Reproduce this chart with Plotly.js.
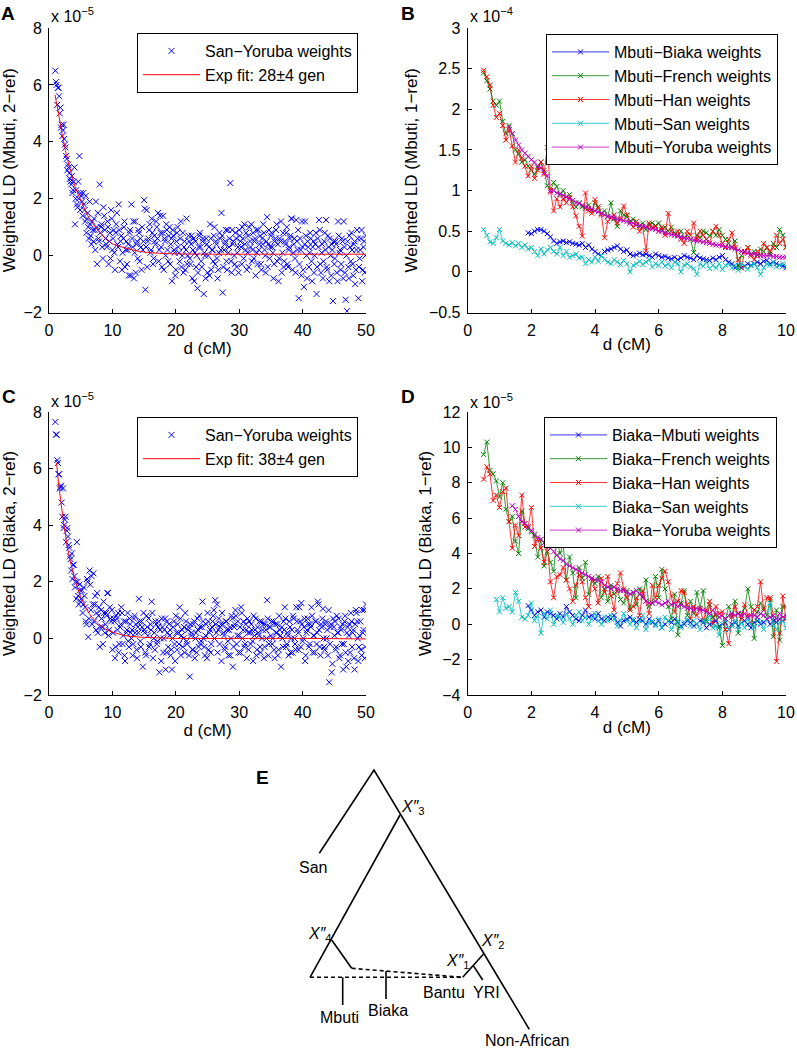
<!DOCTYPE html>
<html><head><meta charset="utf-8">
<script src="https://cdn.plot.ly/plotly-3.0.1.min.js"></script>
<style>html,body{margin:0;padding:0;background:#fff}#chart{width:797px;height:1050px}</style>
</head><body><div id="chart"></div>
<script>
// ---------- Panels A and C: distance bins (cM) ----------
const dAC = [1,1.2,1.4,1.6,1.8,2,2.2,2.4,2.6,2.8,3,
3.2,3.4,3.6,3.8,4,4.2,4.4,4.6,4.8,5,
5.2,5.4,5.6,5.8,6,6.2,6.4,6.6,6.8,7,
7.2,7.4,7.6,7.8,8,8.2,8.4,8.6,8.8,9,
9.2,9.4,9.6,9.8,10,10.2,10.4,10.6,10.8,11,
11.2,11.4,11.6,11.8,12,12.2,12.4,12.6,12.8,13,
13.2,13.4,13.6,13.8,14,14.2,14.4,14.6,14.8,15,
15.2,15.4,15.6,15.8,16,16.2,16.4,16.6,16.8,17,
17.2,17.4,17.6,17.8,18,18.2,18.4,18.6,18.8,19,
19.2,19.4,19.6,19.8,20,20.2,20.4,20.6,20.8,21,
21.2,21.4,21.6,21.8,22,22.2,22.4,22.6,22.8,23,
23.2,23.4,23.6,23.8,24,24.2,24.4,24.6,24.8,25,
25.2,25.4,25.6,25.8,26,26.2,26.4,26.6,26.8,27,
27.2,27.4,27.6,27.8,28,28.2,28.4,28.6,28.8,29,
29.2,29.4,29.6,29.8,30,30.2,30.4,30.6,30.8,31,
31.2,31.4,31.6,31.8,32,32.2,32.4,32.6,32.8,33,
33.2,33.4,33.6,33.8,34,34.2,34.4,34.6,34.8,35,
35.2,35.4,35.6,35.8,36,36.2,36.4,36.6,36.8,37,
37.2,37.4,37.6,37.8,38,38.2,38.4,38.6,38.8,39,
39.2,39.4,39.6,39.8,40,40.2,40.4,40.6,40.8,41,
41.2,41.4,41.6,41.8,42,42.2,42.4,42.6,42.8,43,
43.2,43.4,43.6,43.8,44,44.2,44.4,44.6,44.8,45,
45.2,45.4,45.6,45.8,46,46.2,46.4,46.6,46.8,47,
47.2,47.4,47.6,47.8,48,48.2,48.4,48.6,48.8,49,
49.2,49.4,49.6,49.8,50];
// in-between bins
const dAC_mid = [1.1,1.3,1.5,1.7,1.9,2.1,2.3,2.5,2.7,2.9,
3.1,3.3,3.5,3.7,3.9,4.1,4.3,4.5,4.7,4.9,
5.1,5.3,5.5,5.7,5.9,6.1,6.3,6.5,6.7,6.9,
7.1,7.3,7.5,7.7,7.9,8.1,8.3,8.5,8.7,8.9,
9.1,9.3,9.5,9.7,9.9,10.1,10.3,10.5,10.7,10.9,
11.1,11.3,11.5,11.7,11.9,12.1,12.3,12.5,12.7,12.9,
13.1,13.3,13.5,13.7,13.9,14.1,14.3,14.5,14.7,14.9,
15.1,15.3,15.5,15.7,15.9,16.1,16.3,16.5,16.7,16.9,
17.1,17.3,17.5,17.7,17.9,18.1,18.3,18.5,18.7,18.9,
19.1,19.3,19.5,19.7,19.9,20.1,20.3,20.5,20.7,20.9,
21.1,21.3,21.5,21.7,21.9,22.1,22.3,22.5,22.7,22.9,
23.1,23.3,23.5,23.7,23.9,24.1,24.3,24.5,24.7,24.9,
25.1,25.3,25.5,25.7,25.9,26.1,26.3,26.5,26.7,26.9,
27.1,27.3,27.5,27.7,27.9,28.1,28.3,28.5,28.7,28.9,
29.1,29.3,29.5,29.7,29.9,30.1,30.3,30.5,30.7,30.9,
31.1,31.3,31.5,31.7,31.9,32.1,32.3,32.5,32.7,32.9,
33.1,33.3,33.5,33.7,33.9,34.1,34.3,34.5,34.7,34.9,
35.1,35.3,35.5,35.7,35.9,36.1,36.3,36.5,36.7,36.9,
37.1,37.3,37.5,37.7,37.9,38.1,38.3,38.5,38.7,38.9,
39.1,39.3,39.5,39.7,39.9,40.1,40.3,40.5,40.7,40.9,
41.1,41.3,41.5,41.7,41.9,42.1,42.3,42.5,42.7,42.9,
43.1,43.3,43.5,43.7,43.9,44.1,44.3,44.5,44.7,44.9,
45.1,45.3,45.5,45.7,45.9,46.1,46.3,46.5,46.7,46.9,
47.1,47.3,47.5,47.7,47.9,48.1,48.3,48.5,48.7,48.9,
49.1,49.3,49.5,49.7,49.9];

// Panel A: Weighted LD (Mbuti, 2-ref), San-Yoruba weights, units of 1e-5
const ldA = [6.5,6.0,5.9,5.6,5.2,4.6,4.4,4.1,3.8,3.4,3.2,
2.9,2.6,2.8,2.3,3.1,2.0,1.8,2.6,3.5,2.2,
1.9,2.2,1.6,2.1,1.3,1.0,1.9,0.7,1.2,0.5,
0.9,1.9,-0.3,0.6,2.5,1.0,0.3,1.7,0.9,0.4,
1.2,-0.3,0.8,1.6,0.2,0.9,-0.5,1.1,0.4,1.8,
-0.2,0.7,0.1,1.0,-0.4,0.5,0.2,-0.7,0.9,1.8,
0.3,-0.8,1.2,0.4,-0.1,0.8,0.6,-0.5,0.2,1.95,
-1.2,1.6,0.5,0.9,0.1,1.3,-0.3,0.7,0.4,1.0,
1.5,0.2,0.8,-0.4,1.4,0.6,0.0,0.9,-0.2,1.0,
0.4,-0.9,0.7,0.1,-0.5,0.8,0.3,-0.2,1.2,0.0,
-0.6,0.5,0.2,-0.3,0.7,-0.1,0.4,-0.8,0.6,0.1,
-0.4,-1.15,0.3,0.8,-0.2,0.5,-1.35,0.0,0.6,-0.6,
0.3,1.1,-0.5,0.2,0.7,-0.3,0.4,-0.8,0.1,0.6,
1.5,-1.3,0.2,0.5,-0.2,0.9,0.3,2.55,-0.6,0.4,
0.0,0.8,-0.4,0.3,0.9,0.5,-0.3,0.6,1.1,0.2,
-0.5,0.7,1.0,0.3,-0.2,0.8,0.5,-0.7,0.1,0.9,
0.4,-0.3,0.6,1.1,0.2,-0.6,1.35,0.4,-0.1,0.7,
0.3,-0.8,0.5,0.9,-0.2,-0.9,0.6,1.2,0.1,-0.4,
0.5,0.8,-0.3,0.2,0.6,1.3,-0.5,0.4,-0.1,1.25,
0.2,-1.5,0.6,-0.7,0.3,-1.1,1.2,0.0,0.5,-0.4,
0.8,-0.2,0.3,-0.6,0.4,-1.35,0.6,1.25,-0.3,0.1,
-0.8,0.5,0.2,-0.4,0.7,-0.9,0.0,0.4,-1.6,-0.3,
0.5,-0.6,1.2,0.1,-0.5,0.6,-0.8,0.3,-1.55,-1.95,
-0.4,0.7,-0.2,0.2,-0.7,0.5,-0.5,0.9,-1.5,-0.1,
0.6,-0.9,0.3,-0.6,0.7];
const ldA_mid = [6.1,5.3,5.9,5.0,4.5,4.2,4.6,3.9,3.5,3.0,
3.1,2.7,2.5,2.2,2.6,1.1,2.3,1.7,2.0,1.6,
2.1,1.4,1.8,1.2,0.8,1.5,0.6,1.1,0.4,0.9,
1.3,0.2,1.0,1.5,0.5,0.8,1.1,-0.1,1.4,0.6,
0.3,1.0,0.5,-0.1,1.3,0.6,0.1,0.8,1.5,0.3,
0.9,0.5,-0.5,0.6,1.2,0.2,-0.3,0.4,0.8,-0.7,
0.6,1.2,0.1,-0.6,0.5,0.9,-0.2,0.3,1.0,0.5,
1.65,0.3,-0.4,0.6,1.1,0.2,0.8,-0.1,0.5,1.2,
0.6,-0.2,1.4,0.3,0.8,-0.5,0.5,1.1,0.2,0.7,
-0.3,0.6,0.9,0.2,-0.7,0.5,1.0,0.1,0.6,-0.4,
0.8,0.3,-0.5,1.3,0.0,0.5,-0.3,0.7,0.2,-0.9,
0.5,0.0,-0.6,0.7,0.3,-0.4,0.6,0.1,-0.8,0.4,
0.0,-0.7,0.6,0.2,-0.2,1.0,0.5,-0.1,-0.5,0.8,
0.2,0.7,-0.4,0.4,0.9,-0.5,0.1,0.6,-0.2,0.9,
0.5,-0.3,0.6,0.1,-0.6,0.7,0.3,1.0,-0.1,0.4,
0.8,0.1,-0.4,0.5,1.1,0.2,-0.1,0.6,0.9,-0.3,
0.2,0.7,-0.5,0.4,0.8,0.0,0.5,-0.4,0.9,0.3,
0.8,0.1,-0.3,0.6,1.1,0.4,-0.1,0.5,-0.6,0.8,
-0.2,0.4,1.0,-0.4,0.3,0.7,1.3,0.1,0.6,-0.6,
0.5,0.9,-0.3,0.2,1.2,-0.5,0.4,0.7,-0.8,0.3,
0.1,0.6,-0.9,0.5,0.0,0.8,-0.4,0.3,0.9,-0.6,
0.4,-0.2,0.8,1.25,-0.5,0.3,0.6,-0.7,0.2,0.5,
-0.1,0.4,-0.9,0.7,0.2,-0.3,0.5,1.2,-0.6,0.0,
0.5,-0.8,0.3,0.8,-0.3,0.4,-1.0,0.2,0.6,-0.4,
0.2,0.9,-0.5,0.5,0.0];
const fitA_d = [0.95,1.5,2,2.5,3,3.5,4,4.5,5,6,7,8,9,10,12,14,16,20,25,30,40,50];
const fitA_v = [5.65,5.0,4.35,3.8,3.3,2.9,2.5,2.2,1.95,1.45,1.1,0.82,0.6,0.42,0.27,0.16,0.1,0.06,0.05,0.05,0.05,0.05];

// Panel C: Weighted LD (Biaka, 2-ref), San-Yoruba weights, units of 1e-5
const ldC = [7.65,7.2,6.2,5.8,5.35,4.8,5.3,4.0,4.3,3.8,3.6,
3.2,2.8,3.0,2.6,2.2,2.0,3.4,1.5,1.9,1.3,
1.7,1.2,1.5,0.6,2.1,0.05,2.4,1.0,0.5,2.3,
1.2,0.3,1.6,0.8,-0.3,1.0,0.4,1.3,0.2,0.9,
1.6,0.1,1.1,0.6,-0.4,0.7,-0.7,0.8,0.3,-0.5,
0.4,1.1,-0.2,0.6,-0.8,0.2,0.9,-0.3,0.5,0.0,
-0.6,0.7,0.2,-0.4,0.4,1.4,-0.1,0.6,-1.0,0.3,
-0.5,0.8,0.1,-0.3,0.5,1.3,-0.7,0.2,0.6,-0.2,
0.4,-1.2,0.0,0.7,-0.5,0.3,-1.1,0.6,-0.3,0.1,
-0.6,-1.1,0.4,-0.2,0.8,-0.4,0.2,1.1,-0.6,0.3,
0.0,-0.5,0.6,-0.2,0.4,-1.35,0.1,-0.4,0.5,-0.7,
0.2,0.7,-0.3,0.4,-0.1,1.3,0.0,-0.6,0.5,0.9,
-0.4,0.3,-0.2,0.6,1.0,1.35,0.2,-0.5,0.7,0.4,
-0.8,0.5,0.1,-0.3,0.6,-0.1,0.3,-0.6,0.8,-1.0,
0.4,1.0,-0.2,0.6,0.1,-0.5,0.9,0.3,-0.3,0.5,
-0.7,0.2,0.6,-0.2,0.3,-0.8,0.1,0.7,-0.4,0.2,
0.6,-0.5,0.0,0.5,-0.3,0.3,1.35,-0.6,0.4,0.1,
-0.2,0.6,-0.7,0.2,0.5,-0.4,0.3,-1.0,0.0,0.6,
1.1,-0.3,0.2,-0.6,0.4,0.0,-0.5,0.7,-0.2,1.1,
0.3,-0.4,0.6,1.25,-0.1,0.4,-0.8,0.2,0.7,-0.3,
0.5,1.1,-0.5,0.1,0.6,-0.2,1.3,0.3,-0.6,0.4,
1.05,-0.3,0.5,0.0,-0.6,-1.55,0.4,-1.2,0.7,0.1,
-0.4,0.8,0.2,-0.7,0.4,-0.2,-1.1,0.6,-0.5,0.2,
-0.8,0.5,0.9,-0.3,0.3,-1.1,1.0,0.6,-0.8,0.1,
-0.4,1.0,0.3,-0.7,1.2];
const ldC_mid = [7.2,6.3,5.8,5.3,5.4,4.3,3.9,4.2,3.4,3.9,
3.3,2.9,2.4,2.1,2.6,1.8,1.4,2.0,1.2,1.7,
1.4,0.9,1.8,1.1,0.5,2.0,0.7,1.9,2.2,1.2,
0.6,1.5,0.9,0.2,1.1,0.4,0.7,-0.2,0.9,0.5,
0.8,1.6,0.3,0.7,1.0,0.2,0.6,-0.3,0.7,0.9,
-0.2,0.5,0.9,0.1,-0.6,0.6,0.3,-0.1,0.7,0.2,
0.3,-0.2,0.8,0.5,-0.7,0.2,0.6,-0.3,0.4,0.9,
0.2,-0.6,0.4,0.7,-0.2,0.3,0.9,0.0,-0.4,0.5,
-0.1,0.6,0.3,-0.8,0.4,0.0,0.7,-0.5,0.2,0.5,
0.3,-0.4,0.0,0.6,-0.8,0.2,0.5,-0.2,0.7,0.1,
-0.3,0.4,0.9,-0.1,0.3,-0.6,0.5,0.2,-0.4,0.6,
0.0,-0.5,0.3,0.8,-0.2,0.4,0.6,-0.3,0.1,-0.7,
0.6,0.2,-0.5,0.4,0.8,0.0,0.5,1.2,0.3,-0.2,
0.5,0.9,0.2,-0.4,0.6,0.3,-0.6,0.4,0.0,0.7,
-0.3,0.5,0.8,0.1,-0.5,0.4,1.1,0.0,0.6,-0.2,
0.3,0.7,-0.4,0.2,0.5,-0.1,0.8,0.3,-0.6,0.4,
0.1,-0.3,0.6,0.3,-0.7,0.5,0.0,0.7,-0.2,0.4,
0.6,0.0,-0.4,0.5,0.2,-0.6,0.8,0.1,0.4,-0.3,
0.3,0.7,-0.2,0.1,0.6,-0.5,0.3,0.8,0.0,-0.4,
0.6,0.2,1.1,-0.3,0.5,0.0,0.7,-0.6,0.3,0.5,
-0.2,0.4,0.8,0.1,-0.5,0.6,0.2,1.2,-0.3,0.5,
0.7,0.0,-0.4,0.6,0.3,1.0,-0.2,0.5,-0.9,0.4,
0.6,-0.3,0.2,0.7,-0.6,0.3,0.5,-0.2,0.8,-1.0,
0.4,0.1,-0.5,0.6,0.2,-0.7,0.5,0.9,0.0,-0.3,
0.6,-0.6,0.2,1.0,-0.3];
const fitC_d = [1.2,1.5,2,2.5,3,3.5,4,4.5,5,6,7,8,9,10,12,14,17,20,30,40,50];
const fitC_v = [6.2,5.5,4.6,3.8,3.1,2.6,2.15,1.8,1.47,1.0,0.69,0.47,0.32,0.22,0.1,0.05,0.02,0.0,0.0,0.0,-0.02];

// ---------- Panels B and D: distance bins (cM) ----------
const dBD = [0.5,0.6,0.7,0.8,0.9,
1,1.1,1.2,1.3,1.4,1.5,1.6,1.7,1.8,1.9,
2,2.1,2.2,2.3,2.4,2.5,2.6,2.7,2.8,2.9,
3,3.1,3.2,3.3,3.4,3.5,3.6,3.7,3.8,3.9,
4,4.1,4.2,4.3,4.4,4.5,4.6,4.7,4.8,4.9,
5,5.1,5.2,5.3,5.4,5.5,5.6,5.7,5.8,5.9,
6,6.1,6.2,6.3,6.4,6.5,6.6,6.7,6.8,6.9,
7,7.1,7.2,7.3,7.4,7.5,7.6,7.7,7.8,7.9,
8,8.1,8.2,8.3,8.4,8.5,8.6,8.7,8.8,8.9,
9,9.1,9.2,9.3,9.4,9.5,9.6,9.7,9.8,9.9,
10];

// Panel B: Weighted LD (Mbuti, 1-ref), units of 1e-4
const B_Biaka = [null,null,null,null,null,
null,null,null,null,null,null,null,null,null,0.48,
0.47,0.50,0.52,0.52,0.50,0.47,0.43,0.38,0.35,0.37,
0.38,0.36,0.37,0.35,0.34,0.33,0.35,0.30,0.33,0.28,
0.25,0.22,0.20,0.25,0.27,0.28,0.30,0.32,0.28,0.25,
0.27,0.22,0.20,0.21,0.23,0.21,0.22,0.20,0.18,0.22,
0.20,0.18,0.19,0.17,0.16,0.18,0.15,0.17,0.20,0.18,
0.17,0.15,0.20,0.17,0.16,0.15,0.14,0.17,0.15,0.18,
0.20,0.15,0.12,0.10,0.05,0.08,0.05,0.07,0.10,0.08,
0.10,0.12,0.10,0.13,0.14,0.10,0.12,0.10,0.08,0.07,
0.05];
const B_French = [2.45,2.35,2.25,2.10,2.05,
2.10,1.85,1.70,1.80,1.70,1.50,1.45,1.35,1.38,1.30,
1.25,1.20,1.28,1.35,1.25,1.06,1.00,1.10,1.05,0.95,
1.00,0.92,0.95,0.85,0.80,0.85,0.80,0.78,0.82,0.75,
0.85,0.78,0.72,0.75,0.68,0.85,0.65,0.56,0.75,0.70,
0.68,0.62,0.65,0.58,0.55,0.60,0.52,0.58,0.60,0.57,
0.60,0.52,0.55,0.50,0.55,0.48,0.45,0.50,0.42,0.45,
0.40,0.24,0.45,0.42,0.50,0.48,0.44,0.50,0.45,0.52,
0.45,0.40,0.35,0.30,0.38,0.05,0.20,0.25,0.30,0.22,
0.25,0.20,0.28,0.25,0.30,0.22,0.35,0.30,0.52,0.45,
0.30];
const B_Han = [2.48,2.40,2.30,2.05,1.90,
1.95,1.80,1.62,1.75,1.55,1.35,1.50,1.40,1.30,1.18,
1.30,1.15,1.25,1.35,1.20,1.53,1.00,0.75,0.90,0.80,
0.90,0.85,0.92,0.80,0.69,0.56,0.44,0.97,0.75,0.72,
0.89,0.80,0.70,0.42,0.62,0.66,0.70,0.60,0.65,0.81,
0.70,0.60,0.55,0.62,0.50,0.55,0.26,0.60,0.55,0.56,
0.50,0.55,0.45,0.72,0.50,0.45,0.50,0.40,0.35,0.50,
0.45,0.60,0.40,0.50,0.45,0.40,0.35,0.50,0.56,0.45,
0.35,0.30,0.40,0.48,0.30,0.15,0.05,0.25,0.30,0.20,
0.15,0.25,0.20,0.35,0.30,0.25,0.30,0.45,0.35,0.40,
0.30];
const B_San = [0.52,0.45,0.37,0.35,0.42,
0.52,0.38,0.35,0.33,0.36,0.32,0.35,0.30,0.33,0.28,
0.30,0.25,0.20,0.28,0.22,0.27,0.30,0.25,0.22,0.30,
0.20,0.25,0.18,0.20,0.22,0.17,0.18,0.10,0.15,0.12,
0.18,0.13,0.20,0.15,0.12,0.10,0.15,0.12,0.09,0.14,
0.10,0.00,0.08,0.10,0.13,0.09,0.12,0.15,0.06,0.10,
0.08,0.12,0.07,0.10,0.05,0.12,0.10,0.00,0.08,0.10,
0.06,0.04,-0.03,0.10,0.07,0.12,0.04,0.08,0.05,0.10,
0.03,0.08,0.10,0.05,0.08,0.02,0.10,0.06,0.03,0.08,
0.10,0.05,-0.03,0.05,0.10,0.08,0.12,0.06,0.08,0.10,
0.07];
const B_Yoruba = [null,null,null,null,null,
null,null,null,1.78,1.70,1.62,1.56,1.50,1.46,1.42,
1.38,1.35,1.30,1.28,1.22,1.18,0.98,1.00,0.97,0.96,
0.94,0.92,0.90,0.88,0.85,0.84,0.82,0.80,0.78,0.77,
0.75,0.74,0.72,0.70,0.68,0.68,0.66,0.65,0.64,0.63,
0.62,0.60,0.60,0.58,0.57,0.56,0.55,0.53,0.53,0.52,
0.50,0.50,0.48,0.47,0.46,0.45,0.44,0.43,0.42,0.41,
0.40,0.39,0.38,0.38,0.37,0.36,0.35,0.34,0.33,0.33,
0.32,0.31,0.30,0.30,0.28,0.27,0.25,0.24,0.23,0.22,
0.22,0.21,0.20,0.20,0.20,0.20,0.19,0.19,0.18,0.18,
0.18];

// Panel D: Weighted LD (Biaka, 1-ref), units of 1e-5
const D_Mbuti = [null,null,null,null,null,
null,null,null,null,null,null,null,null,null,1.05,
0.8,0.5,0.7,0.8,0.4,0.7,0.6,0.5,0.3,0.6,
0.4,1.0,0.7,0.5,0.3,0.2,0.5,0.8,0.4,0.5,
0.3,0.6,0.3,0.2,0.4,0.3,0.5,0.1,-0.1,0.2,
0.3,0.4,0.2,0.1,0.3,0.2,0.0,0.3,0.1,0.0,
0.2,-0.2,0.0,0.2,0.1,0.3,0.1,-0.1,0.0,0.2,
0.1,-0.1,0.0,0.2,0.1,-0.2,0.0,0.1,0.2,-0.1,
0.0,0.1,-0.3,0.0,0.1,-0.1,0.1,0.2,0.0,-0.2,
0.1,0.2,0.0,0.1,0.3,0.0,0.2,0.1,0.3,0.2,
0.3];
const D_French = [9.6,10.3,8.7,8.5,8.1,
7.2,8.0,6.5,5.8,6.1,4.7,4.0,6.4,5.7,5.4,
5.2,5.0,3.8,4.8,3.3,4.1,3.5,3.0,4.8,4.0,
4.5,2.5,3.8,2.9,1.5,3.2,2.6,3.5,1.7,2.6,
2.3,2.7,1.5,2.0,1.3,2.2,1.7,1.9,1.4,1.2,
1.9,0.9,1.8,1.1,2.0,1.5,2.5,1.0,1.2,2.7,
1.5,3.1,2.0,1.0,0.3,1.7,-0.6,1.2,1.9,0.5,
1.3,0.6,1.8,0.9,1.9,0.2,1.1,0.4,0.5,-0.2,
-1.2,0.3,1.0,0.5,1.3,-0.5,0.6,0.9,2.0,1.0,
-0.8,0.7,1.2,0.9,0.5,1.4,-0.7,0.8,-0.9,1.0,
1.0];
const D_Han = [8.2,8.9,8.5,7.0,7.3,
6.6,7.5,7.7,5.8,4.3,5.6,5.0,7.3,5.5,5.5,
6.6,4.4,4.8,4.3,3.5,4.5,2.4,1.5,2.7,2.8,
3.2,2.5,2.0,1.3,2.2,2.8,2.4,1.5,1.0,2.6,
2.0,1.2,2.6,1.8,2.7,1.6,0.8,2.3,2.9,2.0,
1.5,0.8,1.0,1.5,0.5,1.9,1.3,0.6,2.2,1.5,
2.2,2.6,3.0,2.4,1.6,0.7,1.3,1.9,1.8,1.1,
0.3,1.0,0.5,0.9,0.2,0.8,1.3,0.0,1.0,0.6,
0.7,-0.3,-1.1,0.4,1.0,0.6,0.3,1.1,0.5,0.0,
0.8,1.0,2.4,0.8,1.5,1.5,0.5,-2.1,-0.5,1.6,
0.3];
const D_San = [null,null,null,null,1.4,
0.7,1.5,0.9,1.0,0.7,1.8,1.3,0.4,0.3,0.5,
1.2,0.2,0.5,-0.5,0.6,0.3,0.8,0.0,0.5,0.4,
0.1,0.6,0.3,0.0,0.5,0.7,0.2,0.4,0.0,0.3,
0.6,0.2,0.0,0.4,0.2,0.5,0.3,-0.1,0.2,0.6,
0.2,0.0,0.3,-0.2,0.2,0.5,-0.3,0.1,0.2,-0.1,
0.3,-0.2,0.4,0.2,-0.3,0.0,0.2,-0.2,0.1,0.3,
-0.1,0.2,0.0,-0.3,0.2,0.1,0.5,-0.2,-0.1,-0.6,
0.0,0.3,-0.3,-0.1,0.2,-0.3,0.1,-0.2,0.3,0.0,
-0.2,0.4,0.1,-0.3,0.3,1.2,0.0,-0.3,0.1,0.2,
-0.2];
const D_Yoruba = [null,null,null,null,null,
null,null,null,null,6.7,6.5,6.1,5.8,5.7,5.5,
5.3,5.1,4.9,4.8,4.6,4.4,4.3,4.1,3.9,3.7,
3.6,3.4,3.3,3.2,3.1,3.0,2.9,2.8,2.7,2.6,
2.5,2.5,2.4,2.2,2.1,2.0,2.1,2.0,1.9,1.9,
1.8,1.7,1.8,1.9,1.7,1.6,1.3,1.2,1.2,1.3,
1.2,1.1,1.2,1.3,1.1,1.2,1.0,1.1,1.0,0.9,
0.9,0.8,0.9,0.8,0.8,0.7,0.6,0.8,0.6,0.4,
0.5,0.3,0.5,0.6,0.5,0.6,0.5,0.6,0.4,0.5,
0.5,0.4,0.6,0.5,0.3,0.4,0.5,0.3,0.6,0.4,
0.5];

const pairsB = ['Mbuti\u2212Biaka weights','Mbuti\u2212French weights','Mbuti\u2212Han weights','Mbuti\u2212San weights','Mbuti\u2212Yoruba weights'];
const pairsD = ['Biaka\u2212Mbuti weights','Biaka\u2212French weights','Biaka\u2212Han weights','Biaka\u2212San weights','Biaka\u2212Yoruba weights'];
const seriesColors = ['#0000ff','#008000','#ff0000','#00bfbf','#bf00bf'];

// ---------- Panel E: admixture tree (diagram coordinates) ----------
const treeSolidX = [319.3,374,529.3,null, 400,310,null, 331.7,351.7,null, 462.7,483.5,null, 473.3,482.7,null, 342.7,342.7,null, 386,386];
const treeSolidY = [853.3,770,1029.3,null, 815,977.3,null, 940,968.3,null, 977.3,954,null, 965.6,980,null, 977.3,1005,null, 971.1,999];
const treeDashX = [310,462.7,null, 351.7,462.7];
const treeDashY = [977.3,977.3,null, 968.3,977.3];
const treeLabels = ['San','<i>X</i><i>\u2033</i><sub>3</sub>','<i>X</i><i>\u2033</i><sub>4</sub>','<i>X</i><i>\u2033</i><sub>2</sub>','<i>X</i><i>\u2033</i><sub>1</sub>','Bantu','YRI','Mbuti','Biaka','Non-African'];
const treeLabelX = [313.3,413,320,493,458,444,486,339,388,527];
const treeLabelY = [867,807,934,941,961,992,992,1017,1010,1040];

// ---------- build ----------
const W = 797, H = 1050;
const px = v => v / W, py = v => 1 - v / H;
const FONT = 'Liberation Sans, Arial, Helvetica, sans-serif';

const traces = [];
traces.push({x: dAC.concat(dAC_mid), y: ldA.concat(ldA_mid), type: 'scatter', mode: 'markers', name: 'San\u2212Yoruba weights',
  marker: {symbol: 'x-thin-open', size: 6, color: '#0000ff', line: {width: 1, color: '#0000ff'}},
  xaxis: 'x', yaxis: 'y', legend: 'legend'});
traces.push({x: fitA_d, y: fitA_v, type: 'scatter', mode: 'lines', name: 'Exp fit: 28\u00b14 gen',
  line: {color: '#ff0000', width: 1, shape: 'spline', smoothing: 0.6}, xaxis: 'x', yaxis: 'y', legend: 'legend'});

const seriesB = [B_Biaka, B_French, B_Han, B_San, B_Yoruba];
seriesB.forEach((s, i) => traces.push({x: dBD, y: s, type: 'scatter', mode: 'lines+markers', name: pairsB[i],
  line: {color: seriesColors[i], width: 0.8},
  marker: {symbol: 'x-thin-open', size: 5, color: seriesColors[i], line: {width: 1, color: seriesColors[i]}},
  xaxis: 'x2', yaxis: 'y2', legend: 'legend2'}));

traces.push({x: dAC.concat(dAC_mid), y: ldC.concat(ldC_mid), type: 'scatter', mode: 'markers', name: 'San\u2212Yoruba weights',
  marker: {symbol: 'x-thin-open', size: 6, color: '#0000ff', line: {width: 1, color: '#0000ff'}},
  xaxis: 'x3', yaxis: 'y3', legend: 'legend3'});
traces.push({x: fitC_d, y: fitC_v, type: 'scatter', mode: 'lines', name: 'Exp fit: 38\u00b14 gen',
  line: {color: '#ff0000', width: 1, shape: 'spline', smoothing: 0.6}, xaxis: 'x3', yaxis: 'y3', legend: 'legend3'});

const seriesD = [D_Mbuti, D_French, D_Han, D_San, D_Yoruba];
seriesD.forEach((s, i) => traces.push({x: dBD, y: s, type: 'scatter', mode: 'lines+markers', name: pairsD[i],
  line: {color: seriesColors[i], width: 0.8},
  marker: {symbol: 'x-thin-open', size: 5, color: seriesColors[i], line: {width: 1, color: seriesColors[i]}},
  xaxis: 'x4', yaxis: 'y4', legend: 'legend4'}));

traces.push({x: treeSolidX, y: treeSolidY, type: 'scatter', mode: 'lines', line: {color: '#000', width: 1.6},
  xaxis: 'x5', yaxis: 'y5', showlegend: false, hoverinfo: 'skip'});
traces.push({x: treeDashX, y: treeDashY, type: 'scatter', mode: 'lines', line: {color: '#000', width: 1.6, dash: '4px,3px'},
  xaxis: 'x5', yaxis: 'y5', showlegend: false, hoverinfo: 'skip'});

const baseAxis = {showline: true, linecolor: '#000', linewidth: 1, ticks: 'inside', ticklen: 4, tickcolor: '#000',
  showgrid: false, zeroline: false, mirror: false, tickfont: {size: 16, color: '#000'}, ticklabelstandoff: 3};
const xTitle = {text: 'd (cM)', font: {size: 17, color: '#000'}, standoff: 0};
const yTitle = t => ({text: t, font: {size: 17, color: '#000'}, standoff: 6});

const legendBase = {xanchor: 'left', yanchor: 'top', bgcolor: '#fff', bordercolor: '#000', borderwidth: 1,
  font: {size: 16, color: '#000'}, itemwidth: 57, tracegroupgap: 0};

const layout = {
  width: W, height: H, margin: {l: 0, r: 0, t: 0, b: 0}, paper_bgcolor: '#fff', plot_bgcolor: '#fff',
  font: {family: FONT, size: 16, color: '#000'}, showlegend: true,
  xaxis: Object.assign({}, baseAxis, {domain: [px(49), px(366)], range: [0, 50], dtick: 10, anchor: 'y', title: xTitle}),
  yaxis: Object.assign({}, baseAxis, {domain: [py(312.5), py(28)], range: [-2, 8], dtick: 2, anchor: 'x', title: yTitle('Weighted LD (Mbuti, 2\u2212ref)')}),
  xaxis2: Object.assign({}, baseAxis, {domain: [px(467.7), px(786)], range: [0, 10], dtick: 2, anchor: 'y2', title: xTitle}),
  yaxis2: Object.assign({}, baseAxis, {domain: [py(312.5), py(28)], range: [-0.5, 3], dtick: 0.5, anchor: 'x2', title: yTitle('Weighted LD (Mbuti, 1\u2212ref)')}),
  xaxis3: Object.assign({}, baseAxis, {domain: [px(49), px(366)], range: [0, 50], dtick: 10, anchor: 'y3', title: xTitle}),
  yaxis3: Object.assign({}, baseAxis, {domain: [py(695), py(412)], range: [-2, 8], dtick: 2, anchor: 'x3', title: yTitle('Weighted LD (Biaka, 2\u2212ref)')}),
  xaxis4: Object.assign({}, baseAxis, {domain: [px(467.7), px(786)], range: [0, 10], dtick: 2, anchor: 'y4', title: xTitle}),
  yaxis4: Object.assign({}, baseAxis, {domain: [py(695), py(412)], range: [-4, 12], dtick: 2, anchor: 'x4', title: yTitle('Weighted LD (Biaka, 1\u2212ref)')}),
  xaxis5: {domain: [px(250), px(600)], range: [250, 600], visible: false, anchor: 'y5', fixedrange: true},
  yaxis5: {domain: [0, py(760)], range: [1050, 760], visible: false, anchor: 'x5', fixedrange: true},
  legend: Object.assign({}, legendBase, {x: px(137), y: py(33)}),
  legend2: Object.assign({}, legendBase, {x: px(546), y: py(34)}),
  legend3: Object.assign({}, legendBase, {x: px(137), y: py(417)}),
  legend4: Object.assign({}, legendBase, {x: px(544), y: py(417)}),
  annotations: []
};

const ann = layout.annotations;
[['A', 8, 13], ['B', 408, 13], ['C', 9, 396], ['D', 408, 397], ['E', 262, 777]].forEach(([t, x, y]) =>
  ann.push({text: '<b>' + t + '</b>', xref: 'paper', yref: 'paper', x: px(x), y: py(y), showarrow: false,
    xanchor: 'center', yanchor: 'middle', font: {size: 19, color: '#000'}}));
[['x 10<sup>\u22125</sup>', 49, 15], ['x 10<sup>\u22124</sup>', 468, 15], ['x 10<sup>\u22125</sup>', 49, 400], ['x 10<sup>\u22125</sup>', 468, 401]].forEach(([t, x, y]) =>
  ann.push({text: t, xref: 'paper', yref: 'paper', x: px(x), y: py(y), showarrow: false,
    xanchor: 'left', yanchor: 'middle', font: {size: 16, color: '#000'}}));
treeLabels.forEach((t, i) => ann.push({text: t, xref: 'x5', yref: 'y5', x: treeLabelX[i], y: treeLabelY[i],
  showarrow: false, xanchor: 'center', yanchor: 'middle', font: {size: 16, color: '#000'}}));

Plotly.newPlot('chart', traces, layout, {staticPlot: true, displayModeBar: false});
</script>
</body></html>
